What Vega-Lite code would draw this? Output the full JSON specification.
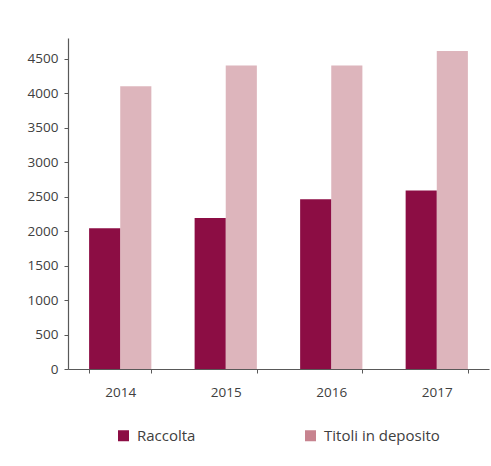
{
  "$schema": "https://vega.github.io/schema/vega-lite/v6.json",
  "width": 421,
  "height": 331,
  "autosize": {"type": "none"},
  "padding": {"left": 68, "top": 38, "right": 2, "bottom": 97},
  "background": "white",
  "config": {
    "view": {"stroke": null},
    "font": "Open Sans",
    "axis": {"labelFont": "Open Sans", "labelColor": "#404040", "domainColor": "#595959", "tickColor": "#595959", "grid": false, "title": null}
  },
  "data": {
    "values": [
      {"anno": "2014", "serie": "Raccolta", "valore": 2040},
      {"anno": "2014", "serie": "Titoli in deposito", "valore": 4100},
      {"anno": "2015", "serie": "Raccolta", "valore": 2190},
      {"anno": "2015", "serie": "Titoli in deposito", "valore": 4400},
      {"anno": "2016", "serie": "Raccolta", "valore": 2460},
      {"anno": "2016", "serie": "Titoli in deposito", "valore": 4400},
      {"anno": "2017", "serie": "Raccolta", "valore": 2590},
      {"anno": "2017", "serie": "Titoli in deposito", "valore": 4610}
    ]
  },
  "mark": {"type": "bar"},
  "encoding": {
    "x": {
      "field": "anno", "type": "nominal",
      "scale": {"paddingInner": 0.41, "paddingOuter": 0.2},
      "axis": {"labelAngle": 0, "tickBand": "extent", "tickSize": 4, "labelPadding": 12, "labelFontSize": 13.5, "domainWidth": 1.2}
    },
    "xOffset": {"field": "serie", "type": "nominal", "sort": ["Raccolta", "Titoli in deposito"]},
    "y": {
      "field": "valore", "type": "quantitative",
      "scale": {"domain": [0, 4800], "nice": false},
      "axis": {"values": [0, 500, 1000, 1500, 2000, 2500, 3000, 3500, 4000, 4500], "format": "d", "tickSize": 4, "labelPadding": 6, "labelFontSize": 13.5, "domainWidth": 1.2}
    },
    "opacity": {"condition": {"test": "datum.serie === 'Titoli in deposito'", "value": 0.6}, "value": 1},
    "color": {
      "field": "serie", "type": "nominal",
      "scale": {"domain": ["Raccolta", "Titoli in deposito"], "range": ["#8c0d44", "#c7838f"]},
      "legend": {
        "title": null,
        "orient": "none",
        "legendX": 48,
        "legendY": 390,
        "direction": "horizontal",
        "symbolType": "square",
        "symbolSize": 121,
        "symbolStrokeWidth": 0,
        "symbolOpacity": 1,
        "labelFontSize": 15,
        "labelColor": "#404040",
        "labelFont": "Open Sans",
        "columnPadding": 107,
        "labelOffset": 6
      }
    }
  }
}
